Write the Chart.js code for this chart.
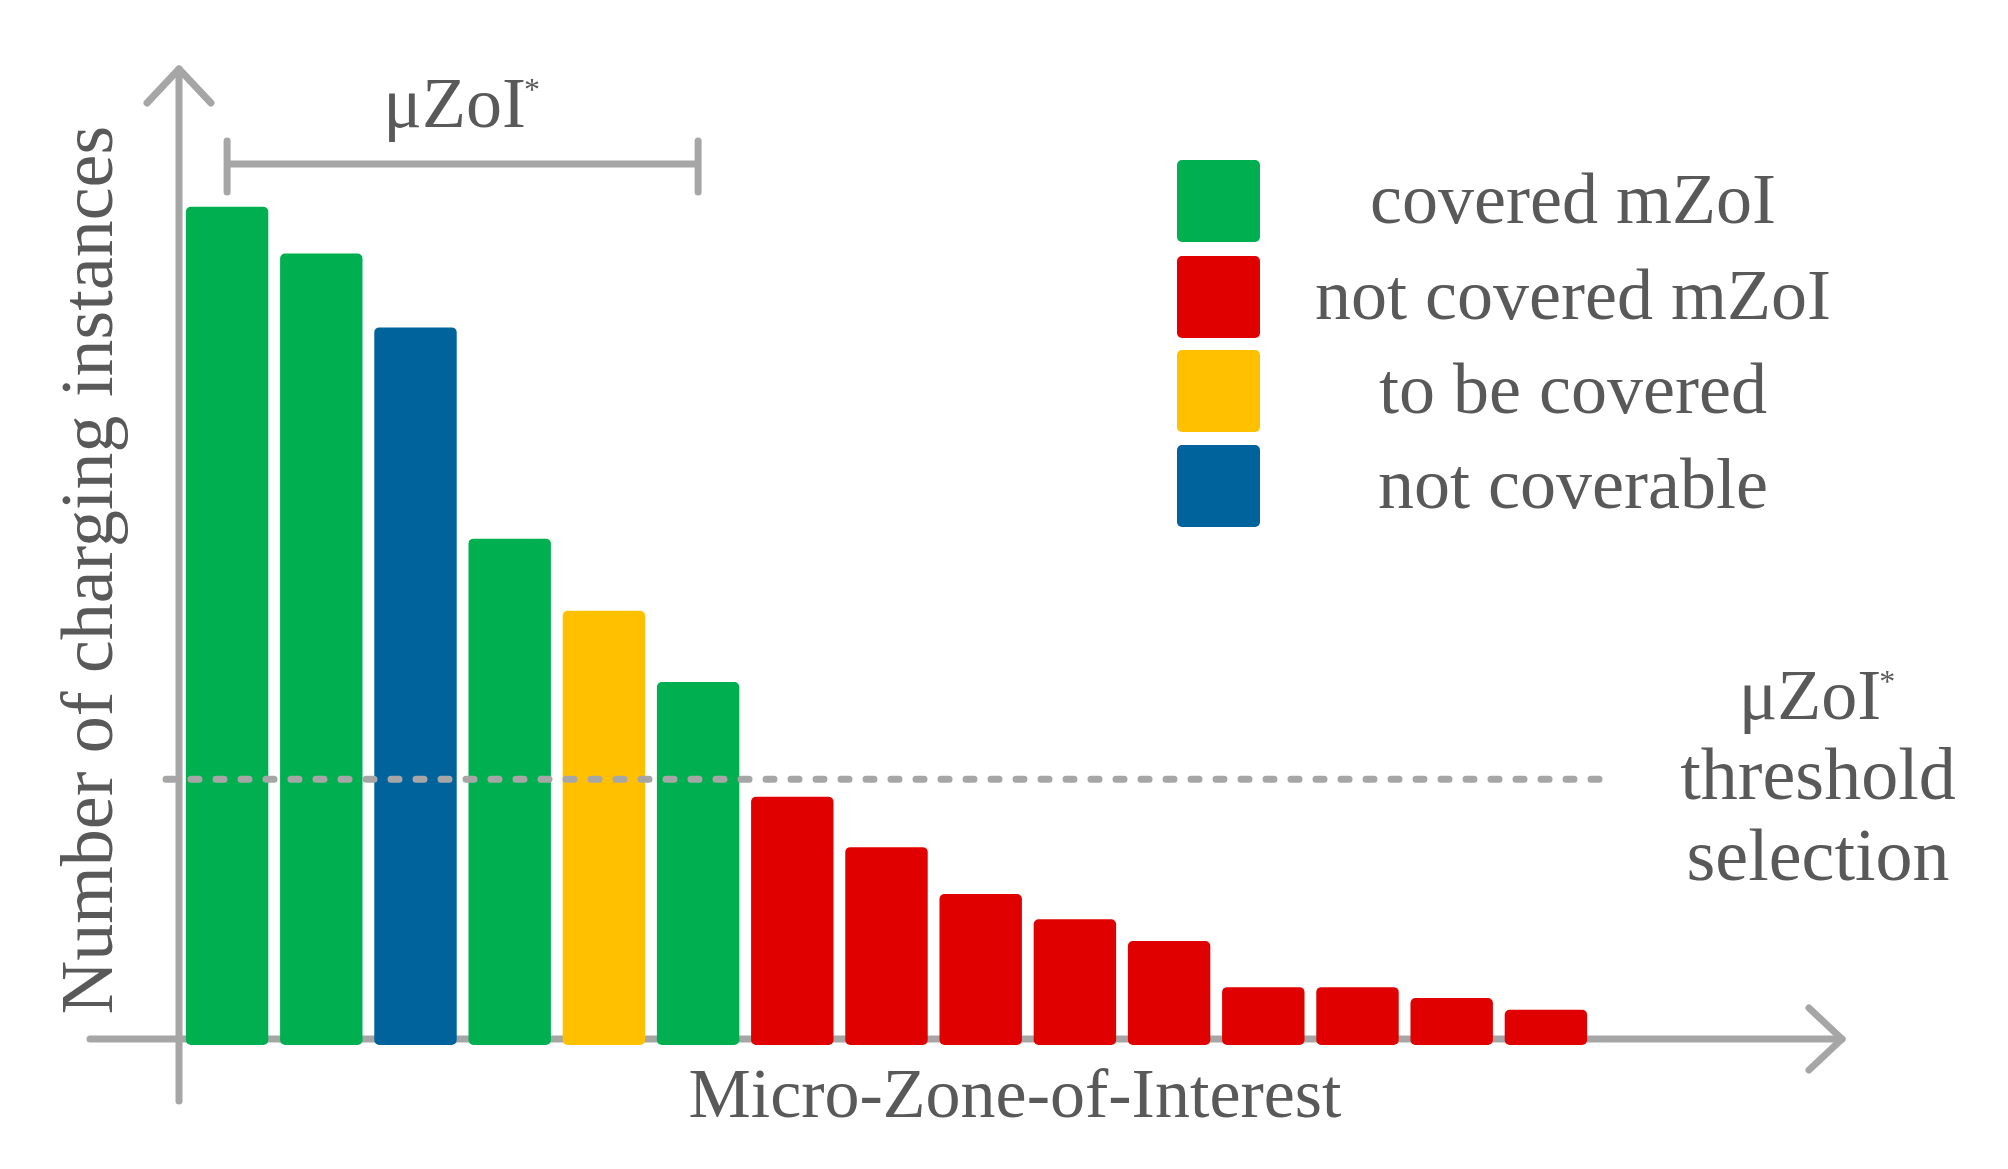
<!DOCTYPE html>
<html lang="en">
<head>
  <meta charset="UTF-8">
  <title>Micro-Zone-of-Interest</title>
  <script src="https://cdn.jsdelivr.net/npm/chart.js"></script>
  <style>
    html, body { margin: 0; padding: 0; background: #fff; }
    #wrap { width: 2008px; height: 1169px; }
  </style>
</head>
<body>
  <div id="wrap"><canvas id="zoiChart" width="2008" height="1169"></canvas></div>

  <script>
    // data (arbitrary units, no ticks shown)
    const zones = ['1', '2', '3', '4', '5', '6', '7', '8', '9', '10', '11', '12', '13', '14', '15'];
    const instances = [100, 94.4, 85.6, 60.4, 51.8, 43.3, 29.6, 23.6, 18.0, 15.0, 12.4, 6.9, 6.9, 5.6, 4.2];
    const status = ['covered', 'covered', 'notCoverable', 'covered', 'toBeCovered', 'covered',
                    'notCovered', 'notCovered', 'notCovered', 'notCovered', 'notCovered',
                    'notCovered', 'notCovered', 'notCovered', 'notCovered'];
    const threshold = 31.7;
    const bracketFrom = 0, bracketTo = 5;

    const legendKeys = ['covered', 'notCovered', 'toBeCovered', 'notCoverable'];
    const legendLabels = ['covered mZoI', 'not covered mZoI', 'to be covered', 'not coverable'];
    const colours = {
      covered: '#00b050',
      notCovered: '#e00000',
      toBeCovered: '#ffc000',
      notCoverable: '#00639c'
    };

    const GREY = '#a6a6a6';
    const TEXT = '#595959';
    const FONT = '"Liberation Serif", "Times New Roman", serif';

    function arrowLine(ctx, x1, y1, x2, y2, head) {
      ctx.beginPath();
      ctx.moveTo(x1, y1);
      ctx.lineTo(x2, y2);
      ctx.stroke();
      if (head) {
        ctx.beginPath();
        ctx.moveTo(head[0][0], head[0][1]);
        ctx.lineTo(x2, y2);
        ctx.lineTo(head[1][0], head[1][1]);
        ctx.stroke();
      }
    }

    // text with a small raised asterisk after it, centred on cx
    function starText(ctx, txt, cx, y, size) {
      ctx.font = size + 'px ' + FONT;
      const w = ctx.measureText(txt).width;
      const small = Math.round(size * 0.45);
      ctx.font = small + 'px ' + FONT;
      const ws = ctx.measureText('*').width;
      const x0 = cx - (w + ws) / 2;
      ctx.textAlign = 'left';
      ctx.font = size + 'px ' + FONT;
      ctx.fillText(txt, x0, y);
      ctx.font = small + 'px ' + FONT;
      ctx.fillText('*', x0 + w - 2, y - size * 0.38);
    }

    const decorations = {
      id: 'decorations',
      beforeDatasetsDraw(chart) {
        const ctx = chart.ctx;
        const a = chart.chartArea;
        const x = chart.scales.x;
        ctx.save();
        ctx.strokeStyle = GREY;
        ctx.lineWidth = 7;
        ctx.lineCap = 'round';
        ctx.lineJoin = 'round';

        // y axis arrow
        const ax = a.left - 1;
        const top = 69;
        arrowLine(ctx, ax, a.bottom + 56, ax, top, [[ax - 32, top + 34], [ax + 32, top + 34]]);

        // x axis arrow
        const ay = a.bottom - 6;
        const tip = 1842;
        arrowLine(ctx, 90, ay, tip, ay, [[tip - 33, ay - 31], [tip - 33, ay + 31]]);

        // bracket over the first zones
        const bx1 = x.getPixelForValue(bracketFrom);
        const bx2 = x.getPixelForValue(bracketTo);
        ctx.beginPath();
        ctx.moveTo(bx1, 164); ctx.lineTo(bx2, 164);
        ctx.moveTo(bx1, 141); ctx.lineTo(bx1, 192);
        ctx.moveTo(bx2, 141); ctx.lineTo(bx2, 192);
        ctx.stroke();
        ctx.restore();
      },
      afterDatasetsDraw(chart) {
        const ctx = chart.ctx;
        const x = chart.scales.x;
        const y = chart.scales.y;
        ctx.save();

        // threshold line
        const ty = y.getPixelForValue(threshold);
        ctx.strokeStyle = GREY;
        ctx.lineWidth = 7;
        ctx.lineCap = 'round';
        ctx.setLineDash([8, 17]);
        ctx.beginPath();
        ctx.moveTo(166, ty);
        ctx.lineTo(1600, ty);
        ctx.stroke();
        ctx.setLineDash([]);

        ctx.fillStyle = TEXT;
        ctx.textBaseline = 'alphabetic';

        // bracket label
        starText(ctx, '\u03BCZoI', (x.getPixelForValue(bracketFrom) + x.getPixelForValue(bracketTo)) / 2, 127, 72);

        // threshold label
        starText(ctx, '\u03BCZoI', 1818, 719, 72);
        ctx.font = '74px ' + FONT;
        ctx.textAlign = 'center';
        ctx.fillText('threshold', 1818, 799);
        ctx.fillText('selection', 1818, 880);

        // axis titles
        ctx.font = '70px ' + FONT;
        ctx.fillText('Micro-Zone-of-Interest', 1015, 1117);
        ctx.save();
        ctx.translate(112, 570);
        ctx.rotate(-Math.PI / 2);
        ctx.font = '74px ' + FONT;
        ctx.fillText('Number of charging instances', 0, 0);
        ctx.restore();

        // legend
        const boxTops = [160, 256, 350, 445];
        legendKeys.forEach((k, i) => {
          ctx.fillStyle = colours[k];
          ctx.beginPath();
          ctx.roundRect(1177, boxTops[i], 83, 82, 5);
          ctx.fill();
          ctx.fillStyle = TEXT;
          ctx.font = '72px ' + FONT;
          ctx.textAlign = 'center';
          ctx.fillText(legendLabels[i], 1573, boxTops[i] + 63);
        });

        ctx.restore();
      }
    };

    const ctx = document.getElementById('zoiChart').getContext('2d');
    new Chart(ctx, {
      type: 'bar',
      data: {
        labels: zones,
        datasets: [{
          data: instances,
          backgroundColor: status.map(s => colours[s]),
          borderRadius: 5,
          borderSkipped: false,
          barPercentage: 0.875,
          categoryPercentage: 1
        }]
      },
      options: {
        responsive: false,
        animation: false,
        devicePixelRatio: 1,
        layout: { padding: { left: 180, right: 415, top: 39, bottom: 124 } },
        plugins: { legend: { display: false }, tooltip: { enabled: false } },
        scales: {
          x: { display: false },
          y: { display: false, min: 0, max: 120 }
        }
      },
      plugins: [decorations]
    });
  </script>
</body>
</html>
